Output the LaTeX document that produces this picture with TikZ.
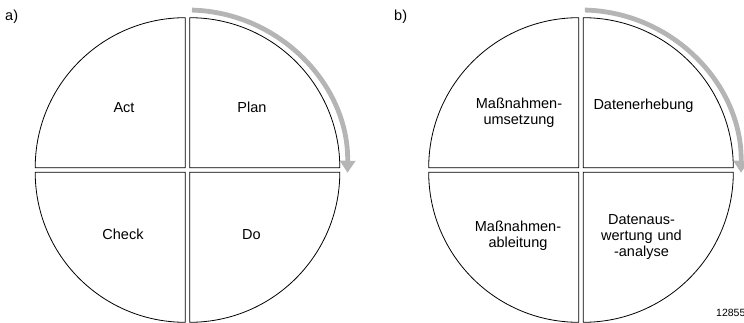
\documentclass[tikz,border=0pt]{standalone}
\usepackage{fontspec}
\setmainfont{Liberation Sans}
\usetikzlibrary{arrows.meta}
\definecolor{cyclegray}{HTML}{B5B5B5}
\tikzset{
  quad/.style={draw=black, line width=0.8pt, fill=white},
  cyclearrow/.style={draw=cyclegray, line width=4.8pt,
    -{Triangle[length=12pt,width=15pt]}},
  lbl/.style={inner sep=0pt, anchor=base, font=\fontsize{14.5}{16}\selectfont},
  mlbl/.style={lbl, text width=130pt, align=center},
  panel/.style={inner sep=0pt, anchor=base west, font=\fontsize{14.5}{16}\selectfont},
  figno/.style={inner sep=0pt, anchor=base west, font=\fontsize{10.5}{12}\selectfont}
}
% four quarter discs around a centre, separated by a small gap
\newcommand{\fourquads}[2]{%
  \path[quad] (#1+2.3,#2+2.3) -- ++(150,0) arc[start angle=0,end angle=90,radius=150] -- cycle;
  \path[quad] (#1-2.3,#2+2.3) -- ++(0,150) arc[start angle=90,end angle=180,radius=150] -- cycle;
  \path[quad] (#1-2.3,#2-2.3) -- ++(-150,0) arc[start angle=180,end angle=270,radius=150] -- cycle;
  \path[quad] (#1+2.3,#2-2.3) -- ++(0,-150) arc[start angle=270,end angle=360,radius=150] -- cycle;
}
\begin{document}
\begin{tikzpicture}[x=1pt,y=1pt]
\useasboundingbox (0,0) rectangle (744,-323);

% ---- panel a: PDCA cycle ----
\coordinate (ca) at (187.5,-170);
\fourquads{187.5}{-170}
\draw[cyclearrow] ([shift={(88.4:160)}]ca) arc[start angle=88.4,end angle=-1,radius=160];
\node[panel] (pa) at (5,-20.5) {a)};
\node[lbl] (act)   at (124,-113)  {Act};
\node[lbl] (plan)  at (252,-113)  {Plan};
\node[lbl] (check) at (123,-240)  {Check};
\node[lbl] (do)    at (251.5,-240) {Do};

% ---- panel b: data-driven improvement cycle ----
\coordinate (cb) at (581,-170);
\fourquads{581}{-170}
\draw[cyclearrow] ([shift={(88.6:160)}]cb) arc[start angle=88.6,end angle=-1,radius=160];
\node[panel] (pb) at (394,-20.5) {b)};
\node[mlbl] (umsetzung) at (519,-109)   {Maßnahmen-\\umsetzung};
\node[lbl]  (erhebung)  at (643.5,-109.5) {Datenerhebung};
\node[mlbl] (ableitung) at (518,-231.5) {Maßnahmen-\\ableitung};
\node[mlbl] (analyse)   at (641.5,-225) {Datenaus-\\wertung und\\-analyse};

\node[figno] (num) at (716,-316) {12855};
\end{tikzpicture}
\end{document}
